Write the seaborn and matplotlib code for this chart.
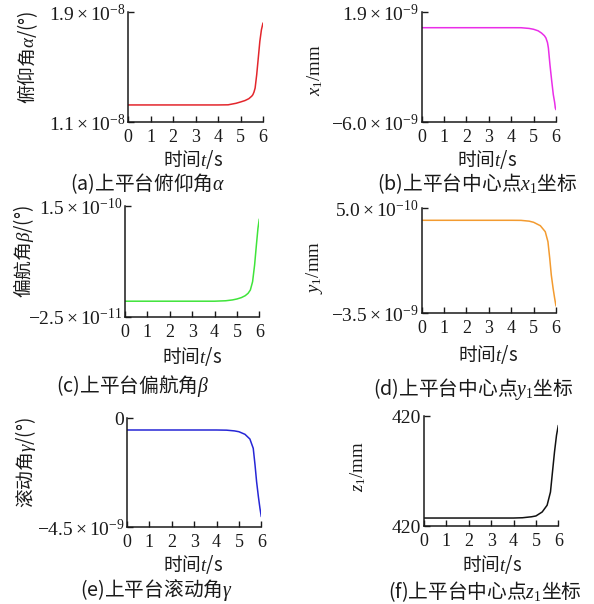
import matplotlib
matplotlib.use("Agg")
import matplotlib.pyplot as plt
import numpy as np
import pandas as pd
import seaborn as sns
from matplotlib.ticker import FixedLocator, FixedFormatter

# ---------------- data ----------------
TICKS_T = [0, 1, 2, 3, 4, 5, 6]

T_A = [0, 1, 2, 3, 4, 4.45, 4.8, 5.0, 5.2, 5.37, 5.5, 5.55, 5.6, 5.65, 5.72, 5.79, 5.86, 5.93, 6.0]
ALPHA = [1.224, 1.224, 1.224, 1.224, 1.224, 1.225, 1.236, 1.2455, 1.256, 1.2695, 1.288, 1.2985,
         1.318, 1.347, 1.444, 1.565, 1.687, 1.771, 1.820]          # x 1e-8 deg

T_B = [0, 1, 2, 3, 4, 4.44, 4.8, 5.0, 5.2, 5.35, 5.48, 5.55, 5.62, 5.66, 5.73, 5.81, 5.88, 5.94, 5.97, 6.0]
X1 = [0.772, 0.772, 0.772, 0.772, 0.772, 0.77, 0.72, 0.658, 0.55, 0.392, 0.2, 0.033, -0.3,
      -0.685, -1.885, -3.077, -4.039, -4.6, -4.995, -5.117]          # x 1e-9 mm

T_C = [0, 1, 2, 3, 4, 4.5, 4.8, 5.0, 5.2, 5.37, 5.5, 5.6, 5.7, 5.79, 5.87, 5.94, 6.0]
BETA = [-0.05, -0.05, -0.05, -0.05, -0.05, 0.02, 0.15, 0.30, 0.52, 0.82, 1.2, 1.72, 3.03,
        5.67, 8.83, 11.47, 12.94]                                   # x 1e-11 deg

T_D = [0, 1, 2, 3, 4, 4.44, 4.8, 5.0, 5.3, 5.52, 5.64, 5.72, 5.79, 5.87, 5.94, 6.0]
Y1 = [0.043, 0.043, 0.043, 0.043, 0.043, 0.04, 0.01, -0.033, -0.163, -0.391, -0.772,
      -1.405, -2.041, -2.548, -2.929, -3.222]                       # x 1e-9 mm

T_E = [0, 1, 2, 3, 4, 4.45, 4.8, 5.0, 5.27, 5.49, 5.64, 5.72, 5.79, 5.87, 5.94, 6.0]
GAMMA = [-0.483, -0.483, -0.483, -0.483, -0.483, -0.49, -0.52, -0.554, -0.661, -0.855,
         -1.239, -1.928, -2.618, -3.237, -3.716, -4.062]            # x 1e-9 deg

T_F = [0, 1, 2, 3, 4, 4.4, 4.8, 5.0, 5.28, 5.5, 5.65, 5.74, 5.83, 5.92, 6.0]
Z1 = [419.658, 419.658, 419.658, 419.658, 419.658, 419.66, 419.667, 419.673, 419.702,
      419.751, 419.847, 419.993, 420.138, 420.260, 420.332]          # mm

YLIM_A, YTL_A = [1.1e-8, 1.9e-8], [r"$1.1\times10^{-8}$", r"$1.9\times10^{-8}$"]
YLIM_B, YTL_B = [-6.0e-9, 1.9e-9], [r"$-6.0\times10^{-9}$", r"$1.9\times10^{-9}$"]
YLIM_C, YTL_C = [-2.5e-11, 1.5e-10], [r"$-2.5\times10^{-11}$", r"$1.5\times10^{-10}$"]
YLIM_D, YTL_D = [-3.5e-9, 5.0e-10], [r"$-3.5\times10^{-9}$", r"$5.0\times10^{-10}$"]
YLIM_E, YTL_E = [-4.5e-9, 0.0], [r"$-4.5\times10^{-9}$", "0"]
YLIM_F, YTL_F = [419.6, 420.4], ["420", "420"]

XLABEL = "时间$t$/s"
YLABELS = ["俯仰角$\\alpha$/(°)", "$x_1$/mm", "偏航角$\\beta$/(°)", "$y_1$/mm",
           "滚动角$\\gamma$/(°)", "$z_1$/mm"]
CAPTIONS = ["(a)上平台俯仰角$\\alpha$", "(b)上平台中心点$x_1$坐标",
            "(c)上平台偏航角$\\beta$", "(d)上平台中心点$y_1$坐标",
            "(e)上平台滚动角$\\gamma$", "(f)上平台中心点$z_1$坐标"]

# ---------------- style ----------------
sns.set_style("ticks")
CN = "Noto Sans CJK SC"
SERIF = "Liberation Serif"
plt.rcParams["font.family"] = [SERIF, CN, "DejaVu Sans"]
plt.rcParams["mathtext.fontset"] = "custom"
plt.rcParams["mathtext.rm"] = SERIF
plt.rcParams["mathtext.it"] = SERIF + ":italic"
plt.rcParams["axes.unicode_minus"] = True

W, H = 594, 604
fig = plt.figure(figsize=(W / 100, H / 100), dpi=100)
fig.patch.set_facecolor("white")

panels = [
    dict(t=T_A, y=np.array(ALPHA) * 1e-8, color="#e3262c", ylim=YLIM_A, ytl=YTL_A,
         box=(128, 263, 12, 122), ylab=(28, 57), yfam=CN, xlab=(193, 160), cap=(148, 184)),
    dict(t=T_B, y=np.array(X1) * 1e-9, color="#ea2ee8", ylim=YLIM_B, ytl=YTL_B,
         box=(421.7, 556, 12, 122), ylab=(315, 70), yfam=SERIF, xlab=(487, 160), cap=(477, 184)),
    dict(t=T_C, y=np.array(BETA) * 1e-11, color="#3fe43a", ylim=YLIM_C, ytl=YTL_C,
         box=(125, 259.3, 206, 316.7), ylab=(23, 252), yfam=CN, xlab=(192, 356), cap=(133, 386)),
    dict(t=T_D, y=np.array(Y1) * 1e-9, color="#f39b30", ylim=YLIM_D, ytl=YTL_D,
         box=(421.7, 556, 208.3, 313.3), ylab=(315, 267), yfam=SERIF, xlab=(488, 354), cap=(473, 389)),
    dict(t=T_E, y=np.array(GAMMA) * 1e-9, color="#2626d6", ylim=YLIM_E, ytl=YTL_E,
         box=(127, 261.3, 418.3, 527.3), ylab=(25, 463), yfam=CN, xlab=(193, 565), cap=(156, 590)),
    dict(t=T_F, y=np.array(Z1), color="#111111", ylim=YLIM_F, ytl=YTL_F,
         box=(424, 558.3, 416, 526), ylab=(358, 467), yfam=SERIF, xlab=(492, 565), cap=(485, 592)),
]

XTICK_FS = 13
YTICK_FS = 14
LAB_FS = 13.5
CAP_FS = 14.2
INK = "#1a1a1a"

for i, p in enumerate(panels):
    l, r, top, bot = p["box"]
    ax = fig.add_axes([l / W, 1 - bot / H, (r - l) / W, (bot - top) / H])
    df = pd.DataFrame({"t": p["t"], "v": p["y"]})
    sns.lineplot(data=df, x="t", y="v", ax=ax, color=p["color"], linewidth=1.1)
    ax.set_xlim(0, 6)
    ax.set_ylim(*p["ylim"])
    ax.xaxis.set_major_locator(FixedLocator(TICKS_T))
    ax.yaxis.set_major_locator(FixedLocator(p["ylim"]))
    ax.yaxis.set_major_formatter(FixedFormatter(p["ytl"]))
    sns.despine(ax=ax)
    for s in ("left", "bottom"):
        ax.spines[s].set_linewidth(1.1)
        ax.spines[s].set_color(INK)
    ax.tick_params(direction="in", length=4, width=1.0, color=INK, labelcolor=INK)
    ax.tick_params(axis="x", pad=5, labelsize=XTICK_FS)
    ax.tick_params(axis="y", pad=2, labelsize=YTICK_FS)
    ax.set_facecolor("white")

    def to_ax(px, py):
        return ((px - l) / (r - l), (bot - py) / (bot - top))

    ax.set_xlabel(XLABEL, fontsize=LAB_FS, family=CN, color=INK)
    ax.xaxis.label.set(va="center", ha="center")
    ax.xaxis.set_label_coords(*to_ax(*p["xlab"]))

    ax.set_ylabel(YLABELS[i], fontsize=LAB_FS, family=p["yfam"], color=INK)
    ax.yaxis.label.set(va="center", ha="center", rotation_mode="default")
    ax.yaxis.set_label_coords(*to_ax(*p["ylab"]))

    cx, cy = p["cap"]
    fig.text(cx / W, 1 - cy / H, CAPTIONS[i], fontsize=CAP_FS, family=CN, color=INK,
             ha="center", va="center")

fig.savefig("out.png", dpi=100, facecolor="white")
